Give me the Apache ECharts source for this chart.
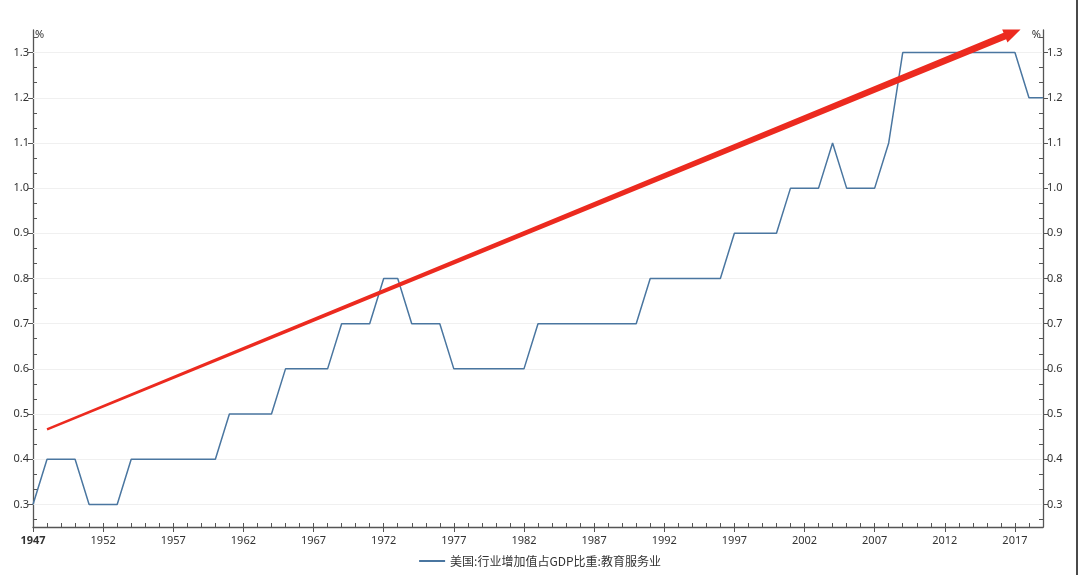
<!DOCTYPE html>
<html>
<head>
<meta charset="utf-8">
<script src="https://cdn.jsdelivr.net/npm/echarts@6/dist/echarts.min.js"></script>
<style>html,body{margin:0;padding:0;background:#fff;}#c{width:1080px;height:575px;}</style>
</head>
<body>
<div id="c"></div>
<script>
const years = [];
for (let y = 1947; y <= 2019; y++) years.push(y);
const values = [
  0.3, 0.4, 0.4, 0.4, 0.3, 0.3, 0.3, 0.4, 0.4, 0.4,   // 1947-1956
  0.4, 0.4, 0.4, 0.4, 0.5, 0.5, 0.5, 0.5, 0.6, 0.6,   // 1957-1966
  0.6, 0.6, 0.7, 0.7, 0.7, 0.8, 0.8, 0.7, 0.7, 0.7,   // 1967-1976
  0.6, 0.6, 0.6, 0.6, 0.6, 0.6, 0.7, 0.7, 0.7, 0.7,   // 1977-1986
  0.7, 0.7, 0.7, 0.7, 0.8, 0.8, 0.8, 0.8, 0.8, 0.8,   // 1987-1996
  0.9, 0.9, 0.9, 0.9, 1.0, 1.0, 1.0, 1.1, 1.0, 1.0,   // 1997-2006
  1.0, 1.1, 1.3, 1.3, 1.3, 1.3, 1.3, 1.3, 1.3, 1.3,   // 2007-2016
  1.3, 1.2, 1.2                                       // 2017-2019
];
const seriesName = '美国:行业增加值占GDP比重:教育服务业';
const yTicks = [0.3, 0.4, 0.5, 0.6, 0.7, 0.8, 0.9, 1.0, 1.1, 1.2, 1.3];
const arrowFrom = [1948, 0.466];
const arrowTo = [2017.4, 1.351];

// minor tick positions: thirds between the major ticks (and one step beyond each end)
const yMinor = [];
const step = 0.1 / 3;
yMinor.push(yTicks[0] - step);
for (let i = 0; i < yTicks.length; i++) {
  yMinor.push(yTicks[i] + step);
  yMinor.push(yTicks[i] + 2 * step);
}
const yMinorVis = yMinor.filter(v => v > 0.25 && v < 1.35);

const chart = echarts.init(document.getElementById('c'));
const numFont = 'Noto Sans';
const axisColor = '#555';

function yMajor(pos) {
  return {
    type: 'value', position: pos, min: 0.25, max: 1.35,
    name: '%',
    nameLocation: 'end', nameGap: -10,
    nameTextStyle: { color: '#333', fontSize: 11, fontFamily: numFont,
      align: pos === 'left' ? 'left' : 'right', padding: pos === 'left' ? [0,0,0,2] : [0,2,0,0] },
    axisLine: { show: true, onZero: false, lineStyle: { color: axisColor, width: 1.3 } },
    axisTick: { show: true, length: 5, customValues: yTicks, lineStyle: { color: axisColor } },
    axisLabel: { color: '#333', fontSize: 11, fontFamily: numFont, margin: 4,
      customValues: yTicks, formatter: function (v) { return v.toFixed(1); } },
    splitLine: { show: false }
  };
}
function yMinorAxis(pos) {
  return {
    type: 'value', position: pos, min: 0.25, max: 1.35,
    axisLine: { show: false },
    axisTick: { show: true, inside: true, length: 4, customValues: yMinorVis, lineStyle: { color: axisColor } },
    axisLabel: { show: false },
    splitLine: { show: false }
  };
}
const option = {
  backgroundColor: '#fff',
  animation: false,
  grid: { left: 33, right: 37, top: 30, bottom: 48, containLabel: false },
  legend: {
    data: [seriesName], bottom: 3, left: 'center',
    icon: 'rect', itemWidth: 26, itemHeight: 2, itemGap: 4,
    textStyle: { color: '#333', fontSize: 12, fontFamily: 'Noto Sans CJK SC' }
  },
  graphic: [
    { type: 'rect', left: 1076, top: 0, shape: { width: 2, height: 575 }, style: { fill: '#4a4a4a' }, silent: true }
  ],
  xAxis: [
    {
      type: 'value', min: 1947, max: 2019, interval: 5,
      axisLine: { show: true, onZero: false, lineStyle: { color: axisColor, width: 1.3 } },
      axisTick: { show: true, length: 5, lineStyle: { color: axisColor } },
      axisLabel: { color: '#333', fontSize: 11, fontFamily: numFont, margin: 8, showMaxLabel: false,
        formatter: function (v) { return v === 1947 ? '{b|1947}' : String(v); },
        rich: { b: { fontWeight: 'bold', fontSize: 11, fontFamily: numFont, color: '#333' } } },
      splitLine: { show: false }
    },
    {
      type: 'value', min: 1947, max: 2019, interval: 1, position: 'bottom',
      axisLine: { show: false },
      axisTick: { show: true, inside: true, length: 4, lineStyle: { color: axisColor } },
      axisLabel: { show: false },
      splitLine: { show: false }
    }
  ],
  yAxis: [yMajor('left'), yMajor('right'), yMinorAxis('left'), yMinorAxis('right')],
  series: [
    {
      name: 'grid', type: 'line', xAxisIndex: 0, yAxisIndex: 0, data: [], z: 1, silent: true,
      markLine: {
        silent: true, symbol: 'none', animation: false, z: 1,
        label: { show: false },
        lineStyle: { color: '#f0f0f0', width: 1, type: 'solid' },
        emphasis: { disabled: true },
        data: yTicks.map(v => ({ yAxis: v }))
      }
    },
    {
      name: seriesName, type: 'line', xAxisIndex: 0, yAxisIndex: 0, z: 3,
      data: years.map((y, i) => [y, values[i]]),
      showSymbol: false, symbol: 'none',
      lineStyle: { color: '#4a76a0', width: 1.5 },
      itemStyle: { color: '#4a76a0' }
    },
    {
      name: 'arrow', type: 'custom', xAxisIndex: 0, yAxisIndex: 0, silent: true, z: 5,
      data: [[arrowFrom[0], arrowFrom[1], arrowTo[0], arrowTo[1]]],
      renderItem: function (params, api) {
        const p0 = api.coord([api.value(0), api.value(1)]);
        const p1 = api.coord([api.value(2), api.value(3)]);
        const dx = p1[0] - p0[0], dy = p1[1] - p0[1];
        const L = Math.sqrt(dx * dx + dy * dy);
        const ux = dx / L, uy = dy / L, nx = -uy, ny = ux;
        const headLen = 17, headHalf = 7, w0 = 1.2, w1 = 3.4;
        const bx = p1[0] - ux * headLen, by = p1[1] - uy * headLen;
        const pts = [
          [p0[0] + nx * w0, p0[1] + ny * w0],
          [bx + nx * w1, by + ny * w1],
          [bx + nx * headHalf, by + ny * headHalf],
          [p1[0], p1[1]],
          [bx - nx * headHalf, by - ny * headHalf],
          [bx - nx * w1, by - ny * w1],
          [p0[0] - nx * w0, p0[1] - ny * w0]
        ];
        return { type: 'polygon', shape: { points: pts }, style: { fill: '#ec2a1f' } };
      }
    }
  ]
};
chart.setOption(option);
</script>
</body>
</html>
